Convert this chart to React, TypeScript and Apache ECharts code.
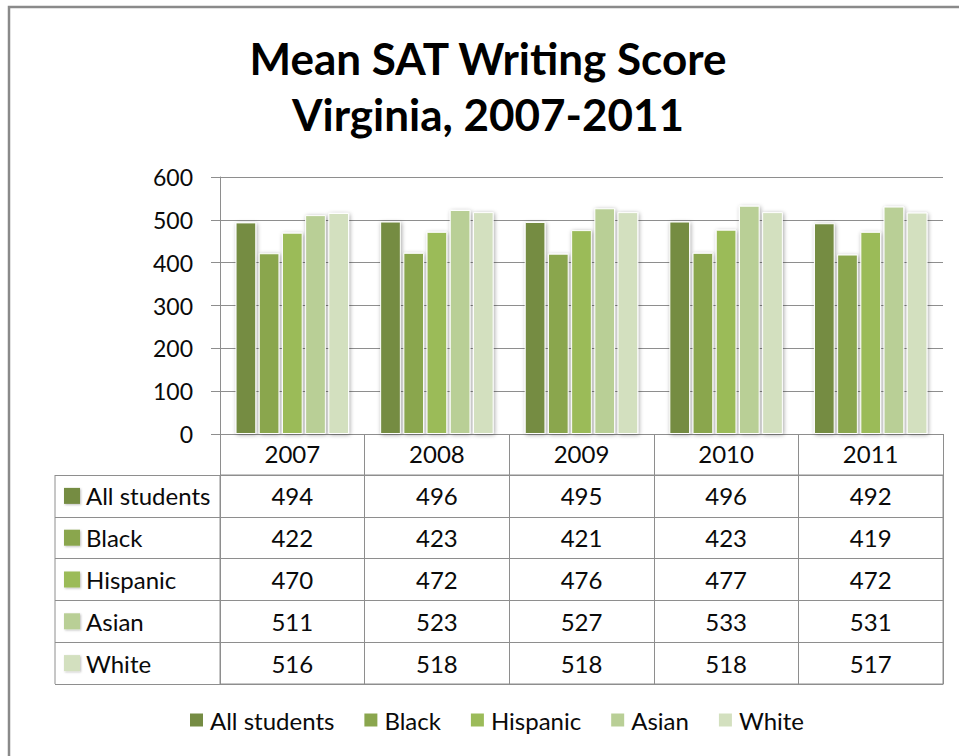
import React, { useEffect, useRef } from "react";
import * as echarts from "echarts";

const years = ["2007", "2008", "2009", "2010", "2011"];
const groups = ["All students", "Black", "Hispanic", "Asian", "White"];
const allStudents = [494, 496, 495, 496, 492];
const black = [422, 423, 421, 423, 419];
const hispanic = [470, 472, 476, 477, 472];
const asian = [511, 523, 527, 533, 531];
const white = [516, 518, 518, 518, 517];
const seriesValues = [allStudents, black, hispanic, asian, white];
const colors = ["#758c43", "#8aa64e", "#9bbb59", "#b9cf96", "#d3e0bf"];
const titleText = "Mean SAT Writing Score\nVirginia, 2007-2011";

const FONT = "Lato, 'Liberation Sans', sans-serif";
const GRID_COLOR = "#8e8e8e";
const TEXT = "#0a0a0a";
const FS = 24;

export default function App() {
  const ref = useRef<HTMLDivElement>(null);
  useEffect(() => {
    if (!ref.current) return;
    const chart = echarts.init(ref.current, null, { renderer: "svg" });

    const rich: Record<string, any> = {
      name: { fontSize: FS, color: TEXT, fontFamily: FONT, padding: [0, 0, 0, 6] },
    };
    colors.forEach((c, i) => {
      rich["s" + i] = {
        width: 16,
        height: 16,
        backgroundColor: c,
        shadowColor: "rgba(0,0,0,0.25)",
        shadowBlur: 2,
        shadowOffsetX: 1,
        shadowOffsetY: 1,
      };
    });

    const tableData: any[] = [];
    groups.forEach((g, gi) => {
      years.forEach((y, yi) => {
        tableData.push([y, g, seriesValues[gi][yi]]);
      });
    });

    const barSeries = groups.map((g, i) => ({
      name: g,
      type: "bar",
      xAxisIndex: 0,
      yAxisIndex: 0,
      data: seriesValues[i],
      barGap: "12%",
      barCategoryGap: "21.5%",
      itemStyle: {
        color: colors[i],
        borderColor: "#ffffff",
        borderWidth: 1,
        shadowColor: "rgba(0,0,0,0.35)",
        shadowBlur: 4,
        shadowOffsetX: 1,
        shadowOffsetY: 1,
      },
    }));

    chart.setOption({
      animation: false,
      backgroundColor: "#ffffff",
      textStyle: { fontFamily: FONT },
      title: {
        text: titleText,
        left: 483,
        top: 25,
        textAlign: "center",
        textStyle: {
          fontFamily: FONT,
          fontSize: 44,
          fontWeight: "bold",
          color: "#000",
          lineHeight: 56,
        },
      },
      legend: {
        data: groups,
        left: 183,
        top: 703,
        icon: "rect",
        itemWidth: 15,
        itemHeight: 15,
        itemGap: 28,
        textStyle: { fontSize: FS, color: TEXT, fontFamily: FONT, padding: [0, 0, 0, 1] },
        selectedMode: false,
      },
      grid: [
        { left: 220, top: 177, width: 723, height: 257 },
        {
          left: 220,
          top: 475,
          width: 723,
          height: 209,
          show: true,
          borderColor: GRID_COLOR,
          borderWidth: 1,
        },
      ],
      xAxis: [
        {
          type: "category",
          gridIndex: 0,
          data: years,
          axisLine: { show: true, lineStyle: { color: GRID_COLOR, width: 1 } },
          axisTick: { show: true, length: 41, inside: false, lineStyle: { color: GRID_COLOR } },
          axisLabel: { fontSize: FS, color: TEXT, margin: 7, fontFamily: FONT },
        },
        {
          type: "category",
          gridIndex: 1,
          data: years,
          axisLine: { show: true, lineStyle: { color: GRID_COLOR } },
          axisTick: { show: false },
          axisLabel: { show: false },
          splitLine: { show: true, lineStyle: { color: GRID_COLOR } },
        },
      ],
      yAxis: [
        {
          type: "value",
          gridIndex: 0,
          min: 0,
          max: 600,
          interval: 100,
          axisLine: { show: true, lineStyle: { color: GRID_COLOR } },
          axisTick: { show: true, length: 9, lineStyle: { color: GRID_COLOR } },
          axisLabel: { fontSize: 23, color: TEXT, margin: 27, fontFamily: FONT },
          splitLine: { show: true, lineStyle: { color: GRID_COLOR, width: 1 } },
        },
        {
          type: "category",
          gridIndex: 1,
          inverse: true,
          data: groups,
          axisLine: { show: true, lineStyle: { color: GRID_COLOR } },
          axisTick: { show: true, length: 165, lineStyle: { color: GRID_COLOR } },
          splitLine: { show: true, lineStyle: { color: GRID_COLOR } },
          axisLabel: {
            align: "left",
            margin: 156,
            formatter: (v: string, i: number) => `{s${i}|}{name|${v}}`,
            rich,
          },
        },
      ],
      series: [
        ...barSeries,
        {
          name: "table",
          type: "scatter",
          xAxisIndex: 1,
          yAxisIndex: 1,
          data: tableData,
          symbol: "rect",
          symbolSize: 1,
          silent: true,
          itemStyle: { color: "#ffffff", opacity: 1 },
          label: {
            show: true,
            position: "inside",
            formatter: (p: any) => String(p.value[2]),
            fontSize: FS,
            color: TEXT,
            opacity: 1,
            textBorderWidth: 0,
            fontFamily: FONT,
          },
        },
      ],
      graphic: [
        {
          type: "rect",
          silent: true,
          shape: { x: 9, y: 7, width: 1000, height: 800 },
          style: { fill: "none", stroke: "#8a8a8a", lineWidth: 2.5 },
        },
        {
          type: "line",
          silent: true,
          shape: { x1: 55, y1: 475, x2: 55, y2: 684 },
          style: { stroke: GRID_COLOR, lineWidth: 1 },
        },
      ],
    });
    return () => chart.dispose();
  }, []);
  return (
    <div
      ref={ref}
      style={{ position: "absolute", left: 0, top: 0, width: 959, height: 756 }}
    />
  );
}
